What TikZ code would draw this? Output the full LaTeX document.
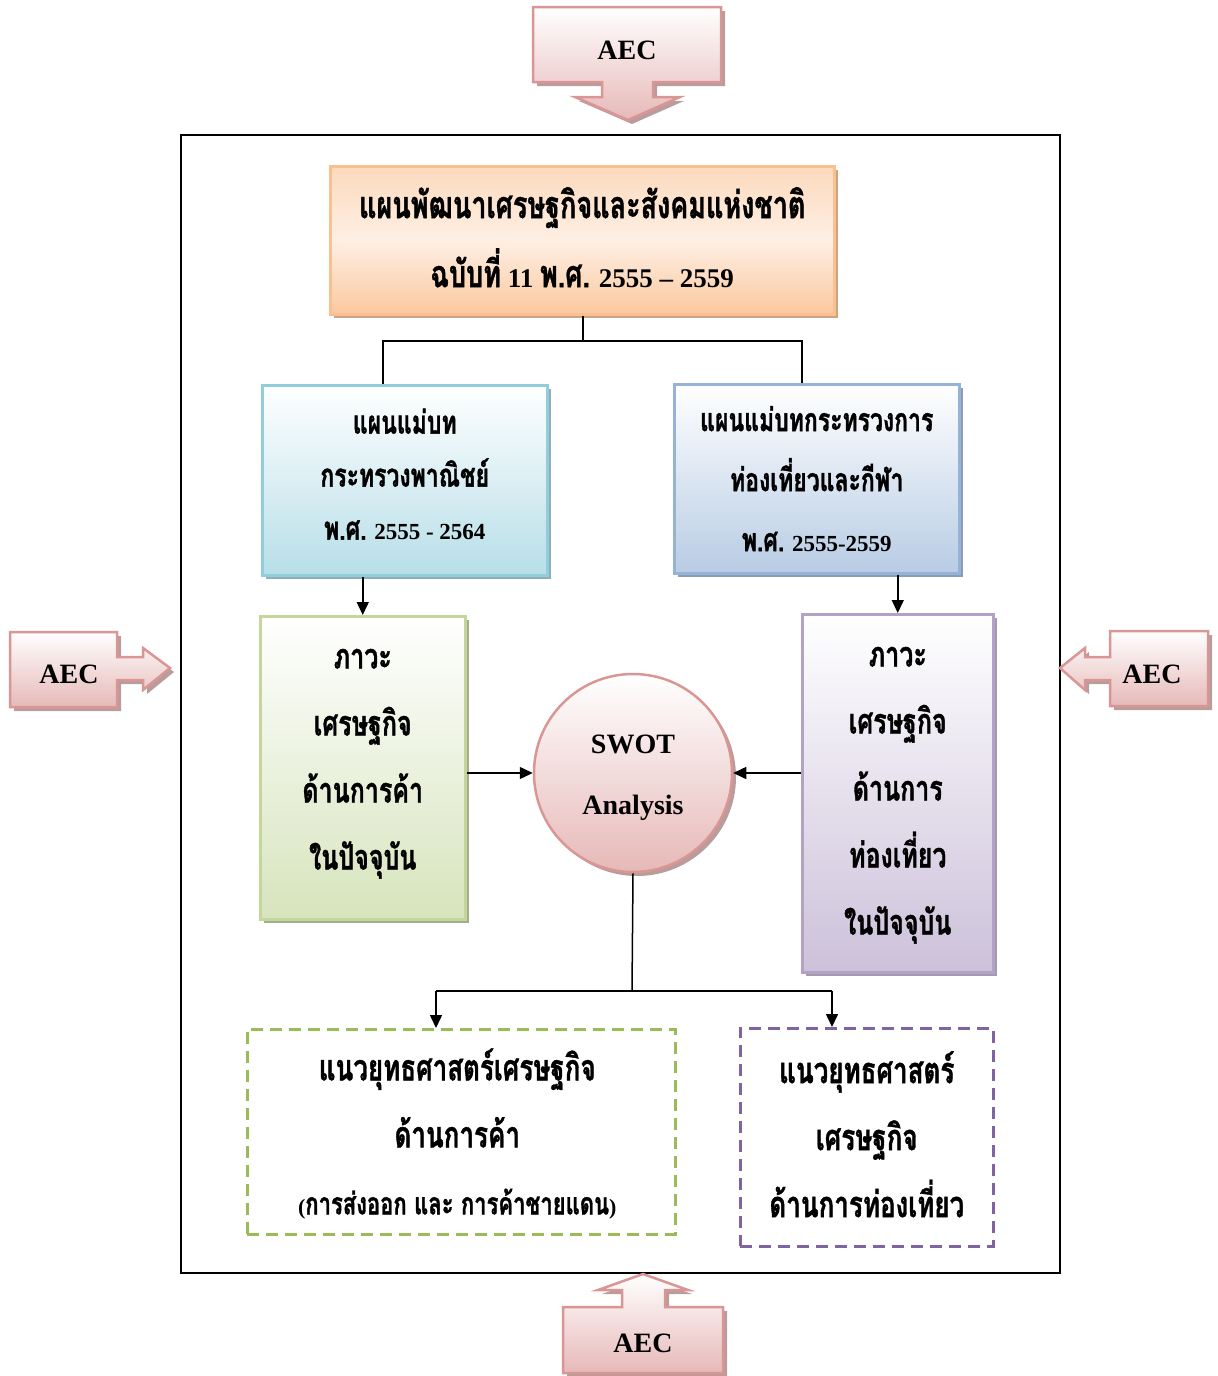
\documentclass[tikz,border=0pt]{standalone}
\usepackage{fontspec}
\setmainfont{Liberation Serif}
\newfontfamily\thai[Script=Thai, Scale=1.4, FakeStretch=0.714, FakeBold=1]{Loma}
\usetikzlibrary{arrows.meta,shadows}
\newcommand\T[1]{{\thai #1}}
\newcommand\fs[2]{\fontsize{#1}{#2}\selectfont}
\definecolor{aecb}{HTML}{D99694}
\definecolor{aecf}{HTML}{E6B9B8}
\definecolor{aecs}{HTML}{B99C9C}
\definecolor{orb}{HTML}{FAC090}
\definecolor{orf}{HTML}{FBC89E}
\definecolor{ort}{HTML}{FCD9BD}
\definecolor{ors}{HTML}{C9A585}
\definecolor{blb}{HTML}{92CDDC}
\definecolor{blf}{HTML}{B7DEE8}
\definecolor{bls}{HTML}{8FAEB6}
\definecolor{brb}{HTML}{95B3D7}
\definecolor{brf}{HTML}{B8CCE4}
\definecolor{brs}{HTML}{8C9CB3}
\definecolor{grb}{HTML}{C3D69B}
\definecolor{grf}{HTML}{D7E4BD}
\definecolor{grs}{HTML}{A4AD8C}
\definecolor{pub}{HTML}{B3A2C7}
\definecolor{puf}{HTML}{CCC1DA}
\definecolor{pus}{HTML}{A39CAD}
\definecolor{dgr}{HTML}{9BBB59}
\definecolor{dpu}{HTML}{8064A2}
\tikzset{
  sbox/.style={draw=#1, line width=2.5pt, anchor=north west, inner sep=0pt},
  shad/.style={drop shadow={shadow xshift=4pt, shadow yshift=-4pt, fill=#1, opacity=1}},
  txt/.style={align=center, inner sep=0pt},
  conn/.style={line width=1.5pt},
  arr/.style={conn, -{Triangle[length=13pt,width=12pt]}},
  dbox/.style={draw=#1, line width=2.5pt, dash pattern=on 12pt off 7pt, anchor=north west, inner sep=0pt},
  aec/.style={draw=aecb, line width=2.5pt, top color=white, bottom color=aecf},
  aecsh/.style={fill=aecs},
  aectxt/.style={font=\bfseries\fs{28}{30}},
}
\begin{document}
\begin{tikzpicture}[x=1pt,y=-1pt]
\useasboundingbox (0,0) rectangle (1218,1376);
% main frame
\draw[line width=1.5pt] (181,135) rectangle (1060,1273);

% top AEC
\fill[aecsh] (537,11) -- (725,11) -- (725,86) -- (657,86) -- (657,101) -- (684,101) -- (632,124) -- (579,101) -- (606,101) -- (606,86) -- (537,86) -- cycle;
\path[aec] (533,7) -- (721,7) -- (721,82) -- (653,82) -- (653,97) -- (680,97) -- (628,120) -- (575,97) -- (602,97) -- (602,82) -- (533,82) -- cycle;
\node[aectxt] (aect) at (627,50) {AEC};
% left AEC
\fill[aecsh] (14,636) -- (121,636) -- (121,661) -- (147,661) -- (147,652) -- (174,672) -- (147,694) -- (147,684) -- (121,684) -- (121,711) -- (14,711) -- cycle;
\path[aec] (10,632) -- (117,632) -- (117,657) -- (143,657) -- (143,648) -- (170,668) -- (143,690) -- (143,680) -- (117,680) -- (117,707) -- (10,707) -- cycle;
\node[aectxt] (aecl) at (69,674) {AEC};
% right AEC
\fill[aecsh] (1114,635) -- (1212,635) -- (1212,710) -- (1114,710) -- (1114,684) -- (1089,684) -- (1089,694) -- (1064,672) -- (1089,652) -- (1089,661) -- (1114,661) -- cycle;
\path[aec] (1110,631) -- (1208,631) -- (1208,706) -- (1110,706) -- (1110,680) -- (1085,680) -- (1085,690) -- (1060,668) -- (1085,648) -- (1085,657) -- (1110,657) -- cycle;
\node[aectxt] (aecr) at (1152,674) {AEC};
% bottom AEC
\fill[aecsh] (567,1311) -- (626,1311) -- (626,1294) -- (602,1294) -- (647,1278) -- (692,1294) -- (669,1294) -- (669,1311) -- (727,1311) -- (727,1380) -- (567,1380) -- cycle;
\path[aec] (563,1307) -- (622,1307) -- (622,1290) -- (598,1290) -- (643,1274) -- (688,1290) -- (665,1290) -- (665,1307) -- (723,1307) -- (723,1373) -- (563,1373) -- cycle;
\node[aectxt] (aecb) at (643,1343) {AEC};

% boxes
\node[sbox=orb, shad=ors, top color=ort, bottom color=orf, middle color=orb!25,
      minimum width=504, minimum height=148] (top) at (329,165) {};
\node[sbox=blb, shad=bls, top color=white, bottom color=blf,
      minimum width=285, minimum height=190] (lb) at (261,384) {};
\node[sbox=brb, shad=brs, top color=white, bottom color=brf,
      minimum width=285, minimum height=189] (rb) at (673,383) {};
\node[sbox=grb, shad=grs, top color=white, bottom color=grf,
      minimum width=205, minimum height=303] (gb) at (259,615) {};
\node[sbox=pub, shad=pus, top color=white, bottom color=puf,
      minimum width=191, minimum height=358] (pb) at (801,613) {};
\node[circle, draw=aecb, line width=2.5pt, shad=aecs, top color=white, bottom color=aecf,
      minimum size=198, inner sep=0pt] (sw) at (633,773) {};
\node[dbox=dgr, minimum width=428, minimum height=205] (dl) at (246,1028) {};
\node[dbox=dpu, minimum width=253, minimum height=218] (dr) at (739,1027) {};

% texts
\node[txt, font=\bfseries\fs{27}{69}] (topt) at ([yshift=3pt]top.center)
  {\T{แผนพัฒนาเศรษฐกิจและสังคมแห่งชาติ}\\\T{ฉบับที่} 11 \T{พ.ศ.} 2555 – 2559};
\node[txt, font=\bfseries\fs{23}{53}] (lbt) at ([yshift=6pt]lb.center)
  {\T{แผนแม่บท}\\\T{กระทรวงพาณิชย์}\\\T{พ.ศ.} 2555 - 2564};
\node[txt, font=\bfseries\fs{23}{60}] (rbt) at (rb.center)
  {\T{แผนแม่บทกระทรวงการ}\\\T{ท่องเที่ยวและกีฬา}\\\T{พ.ศ.} 2555-2559};
\node[txt, font=\bfseries\fs{25}{67}] (gbt) at ([yshift=4pt]gb.center)
  {\T{ภาวะ}\\\T{เศรษฐกิจ}\\\T{ด้านการค้า}\\\T{ในปัจจุบัน}};
\node[txt, font=\bfseries\fs{25}{67}] (pbt) at ([yshift=-2pt]pb.center)
  {\T{ภาวะ}\\\T{เศรษฐกิจ}\\\T{ด้านการ}\\\T{ท่องเที่ยว}\\\T{ในปัจจุบัน}};
\node[txt, font=\bfseries\fs{28}{61}] (swt) at ([yshift=-5pt]sw.center) {SWOT\\Analysis};
\node[txt, font=\bfseries\fs{26}{67}] (dlt) at ([xshift=-4pt,yshift=-2pt]dl.center)
  {\T{แนวยุทธศาสตร์เศรษฐกิจ}\\\T{ด้านการค้า}\\{\fs{22}{60}(\T{การส่งออก และ การค้าชายแดน})}};
\node[txt, font=\bfseries\fs{26}{67}] (drt) at ([yshift=3pt]dr.center)
  {\T{แนวยุทธศาสตร์}\\\T{เศรษฐกิจ}\\\T{ด้านการท่องเที่ยว}};

% connectors
\coordinate (j1) at (583,341);
\coordinate (jl) at (383,341);
\coordinate (jr) at (802,341);
\draw[conn] (top.south -| j1) -- (j1);
\draw[conn] (jl |- lb.north) -- (jl) -- (jr) -- (jr |- rb.north);
\draw[arr] (gb.north |- lb.south) -- (gb.north);
\draw[arr] (pb.north |- rb.south) -- (pb.north);
\draw[arr] (gb.east |- sw.west) -- (sw.west);
\draw[arr] (pb.west |- sw.east) -- (sw.east);
\coordinate (jb) at (632,991);
\coordinate (jbl) at (436,991);
\coordinate (jbr) at (832,991);
\draw[conn] (sw.south) -- (jb);
\draw[conn] (jbl) -- (jbr);
\draw[arr] (jbl) -- (jbl |- dl.north);
\draw[arr] (jbr) -- (jbr |- dr.north);
\end{tikzpicture}
\end{document}
